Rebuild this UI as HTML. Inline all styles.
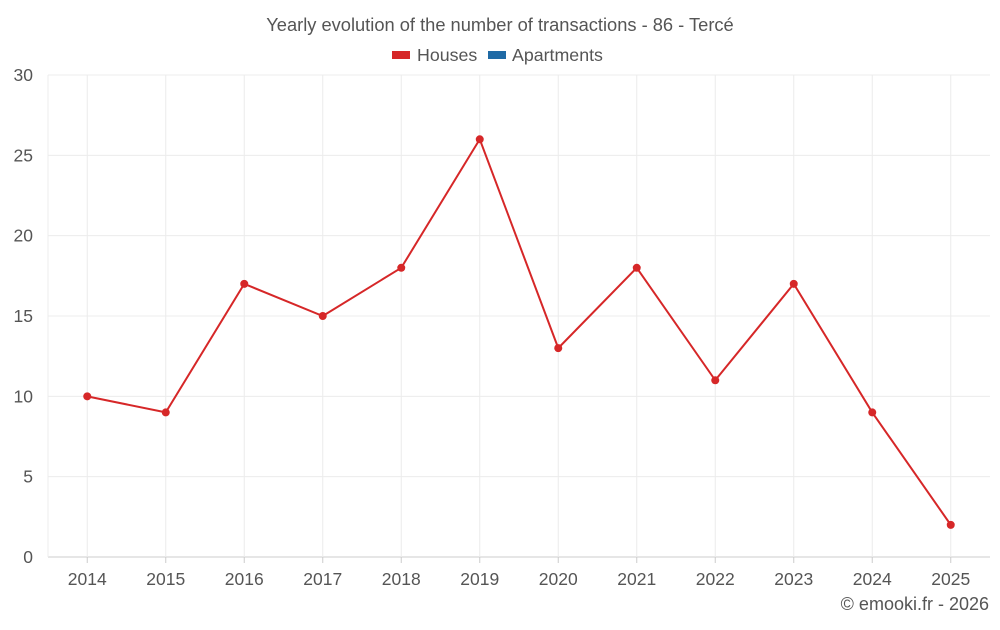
<!DOCTYPE html>
<html><head><meta charset="utf-8"><style>
body{margin:0;background:#fff;font-family:"Liberation Sans",sans-serif;}
svg text{font-family:"Liberation Sans",sans-serif;fill:#555;}
</style></head><body>
<svg id="chart" width="1000" height="625" viewBox="0 0 1000 625" xmlns="http://www.w3.org/2000/svg">
<text x="500" y="31" text-anchor="middle" font-size="18.3">Yearly evolution of the number of transactions - 86 - Tercé</text>
<g>
<rect x="392" y="51" width="18" height="8" fill="#d62728"/>
<text x="417" y="61" font-size="17.8">Houses</text>
<rect x="488" y="51" width="18" height="8" fill="#1f6aa5"/>
<text x="512" y="61" font-size="17.8">Apartments</text>
</g>
<g id="grid"></g><g id="axes"></g><g id="series"></g>
<text x="989" y="610" text-anchor="end" font-size="18">© emooki.fr - 2026</text>
</svg>
<script>
const categories=["2014","2015","2016","2017","2018","2019","2020","2021","2022","2023","2024","2025"];
const houses=[10,9,17,15,18,26,13,18,11,17,9,2];
const yTicks=[0,5,10,15,20,25,30];
const L=48,R=990,T=75,B=557,yMax=30;
const bw=(R-L)/categories.length;
const x=i=>L+bw*(i+0.5);
const y=v=>B-(v/yMax)*(B-T);
const NS="http://www.w3.org/2000/svg";
function mk(tag,attrs,parent){const e=document.createElementNS(NS,tag);for(const k in attrs)e.setAttribute(k,attrs[k]);parent.appendChild(e);return e;}
const grid=document.getElementById('grid'),axes=document.getElementById('axes'),ser=document.getElementById('series');
yTicks.forEach(t=>{
 const ln=mk('line',{x1:L,x2:R,y1:y(t),y2:y(t),stroke:t===0?'#ccc':'#ececec','stroke-width':1},grid);
 
 
 const tx=mk('text',{x:33,y:y(t)+6,'text-anchor':'end','font-size':17.5},axes);
 tx.textContent=t;
 
 
});
const lv=mk('line',{x1:L,x2:L,y1:T,y2:B,stroke:'#ececec'},grid);


categories.forEach((c,i)=>{
 const g=mk('line',{x1:x(i),x2:x(i),y1:T,y2:B,stroke:'#ececec'},grid);
 
 
 const tk=mk('line',{x1:x(i),x2:x(i),y1:B,y2:B+6,stroke:'#ccc'},axes);
 
 
 const tx=mk('text',{x:x(i),y:585,'text-anchor':'middle','font-size':17.5},axes);
 tx.textContent=c;
 
 
});
const pl=mk('polyline',{points:houses.map((v,i)=>x(i)+','+y(v)).join(' '),fill:'none',stroke:'#d62728','stroke-width':2},ser);


houses.forEach((v,i)=>{
 const c=mk('circle',{cx:x(i),cy:y(v),r:4,fill:'#d62728'},ser);
 
 
});
</script>
</body></html>
